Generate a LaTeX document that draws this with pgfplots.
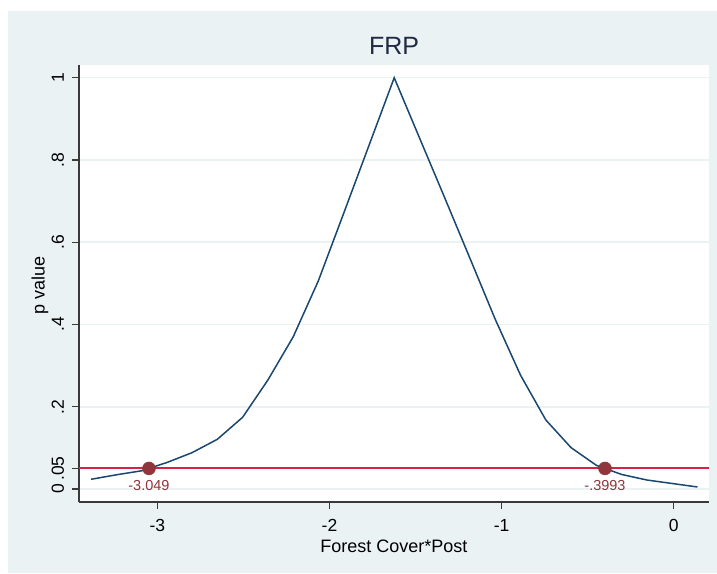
\documentclass[border=0pt]{standalone}
\usepackage{fontspec}
\setmainfont{Liberation Sans}
\usepackage{pgfplots}
\pgfplotsset{compat=1.18}
\definecolor{stbg}{HTML}{EAF2F3}
\definecolor{stgrid}{HTML}{EAF2F3}
\definecolor{stnavy}{HTML}{1A476F}
\definecolor{stred}{HTML}{D62246}
\definecolor{stmaroon}{HTML}{90353B}
\definecolor{sttitle}{HTML}{1F2A44}
\definecolor{staxis}{HTML}{3A3A3A}

\pgfplotstableread{
x y
-3.386 0.0236
-3.239 0.0345
-3.092 0.0443
-2.945 0.0644
-2.799 0.0883
-2.652 0.1208
-2.505 0.1743
-2.358 0.2650
-2.211 0.3700
-2.065 0.5060
-1.918 0.6700
-1.771 0.8350
-1.624 1.0000
-1.477 0.8536
-1.330 0.7075
-1.183 0.5600
-1.037 0.4126
-0.890 0.2767
-0.743 0.1678
-0.596 0.1004
-0.449 0.0575
-0.302 0.0353
-0.156 0.0219
-0.009 0.0134
0.138 0.0049
}\pvalues

\begin{document}
\begin{tikzpicture}
  \fill[white] (0pt,0pt) rectangle (717pt,573pt);
  \fill[stbg] (8pt,0pt) rectangle (717pt,562pt);
  \begin{axis}[
      at={(79pt,71pt)}, anchor=south west,
      scale only axis,
      width=630pt, height=437pt,
      xmin=-3.4556, xmax=0.2051,
      ymin=-0.0316, ymax=1.031,
      axis lines*=left,
      axis line style={staxis, line width=1.2pt, -},
      axis background/.style={fill=white},
      xtick={-3,-2,-1,0},
      xticklabels={-3,-2,-1,0},
      ytick={0,0.05,0.2,0.4,0.6,0.8,1},
      yticklabels={0,.05,.2,.4,.6,.8,1},
      tick align=outside,
      major tick length=7pt,
      tick style={staxis, line width=1.2pt},
      ymajorgrids,
      major grid style={stgrid, line width=1.5pt},
      tick label style={font=\fontsize{17.5}{20}\selectfont, text=black},
      /pgf/number format/assume math mode=true,
      yticklabel style={rotate=90, anchor=base, yshift=8pt},
      xticklabel style={anchor=base, yshift=-22pt},
      title={FRP},
      title style={font=\fontsize{25}{30}\selectfont, text=sttitle,
        at={(axis description cs:0.5,1)}, anchor=base, yshift=4pt},
      xlabel={Forest Cover*Post},
      xlabel style={font=\fontsize{18}{21}\selectfont, text=black,
        at={(axis description cs:0.5,0)}, anchor=base, yshift=-50pt},
      clip=false,
    ]
    \addplot[stnavy, line width=1.5pt, no markers] table[x=x, y=y] {\pvalues};
    \addplot[stred, line width=2pt, no markers] coordinates {(-3.4556,0.05) (0.2051,0.05)};
    \addplot[only marks, mark=*, mark size=6.5pt, color=stmaroon,
      nodes near coords, point meta=explicit symbolic,
      every node near coord/.append style={font=\fontsize{14.5}{17}\selectfont,
        text=stmaroon, anchor=center, yshift=-17pt}]
      coordinates {(-3.049,0.05) [-3.049] (-0.3993,0.05) [-.3993]};
    \node[rotate=90, font=\fontsize{18}{21}\selectfont, text=black, anchor=center]
      at ([xshift=-39pt]axis description cs:0,0.495) {p value};
  \end{axis}
\end{tikzpicture}
\end{document}
